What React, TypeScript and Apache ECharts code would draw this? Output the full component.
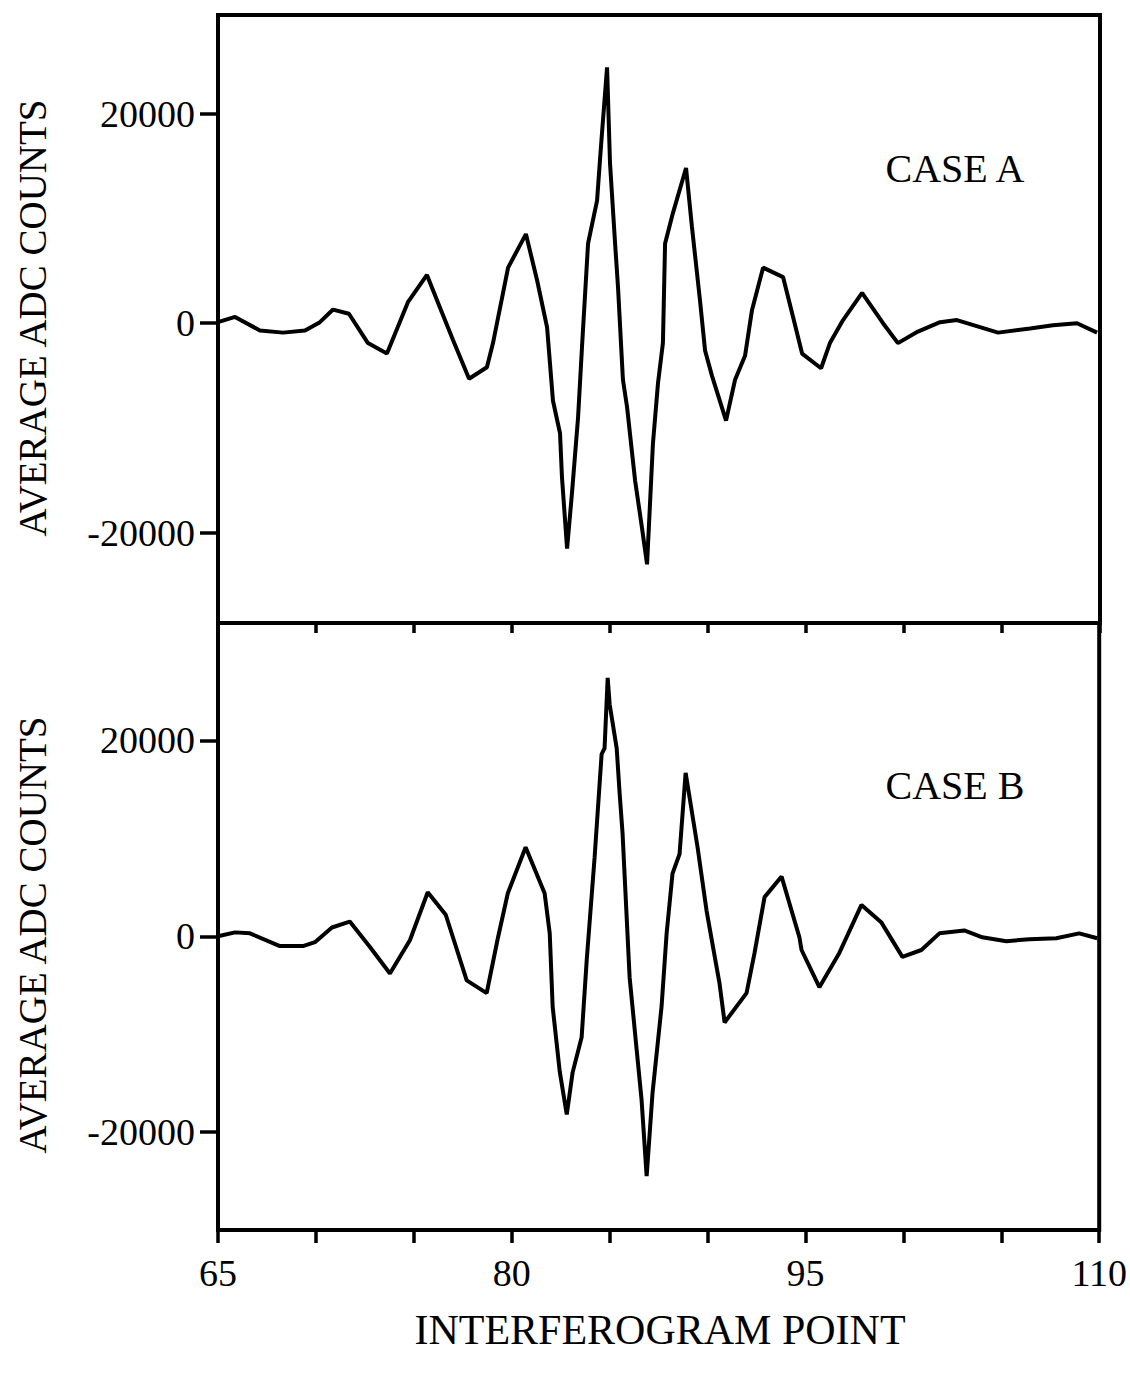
import React, { useEffect, useRef } from "react";
import * as echarts from "echarts";

// Case A interferogram (x = interferogram point, y = average ADC counts)
const caseAX = [65.0, 65.87, 67.14, 68.32, 69.44, 70.2, 70.87, 71.68, 72.65, 73.62, 74.69, 75.66, 76.43, 76.99, 77.81, 78.72, 79.03, 79.8, 80.71, 81.28, 81.79, 82.09, 82.45, 82.55, 82.81, 83.06, 83.37, 83.57, 83.88, 84.34, 84.49, 84.59, 84.85, 85.0, 85.26, 85.41, 85.66, 85.87, 86.28, 86.63, 86.89, 87.19, 87.45, 87.7, 87.81, 88.21, 88.88, 89.18, 89.59, 89.85, 90.2, 90.92, 91.38, 91.89, 92.24, 92.81, 93.83, 94.34, 94.8, 95.77, 96.22, 96.89, 97.86, 98.93, 99.69, 100.71, 101.84, 102.7, 104.8, 106.43, 107.6, 108.83, 109.85];
const caseAY = [100, 600, -700, -900, -700, 100, 1300, 900, -1900, -2900, 2000, 4600, 1000, -1600, -5300, -4200, -1900, 5300, 8500, 4100, -400, -7400, -10500, -14700, -21500, -16200, -9000, -2300, 7600, 11700, 15600, 18100, 24400, 15300, 7600, 3400, -5400, -8000, -15000, -19500, -23000, -11500, -5700, -1900, 7600, 10500, 14800, 9200, 2200, -2600, -5000, -9300, -5400, -3100, 1200, 5300, 4400, 600, -2900, -4300, -1900, 300, 2900, 0, -1900, -800, 100, 300, -900, -500, -200, 0, -900];

// Case B interferogram
const caseBX = [65.0, 65.87, 66.63, 68.16, 69.34, 69.95, 70.82, 71.73, 72.76, 73.78, 74.8, 75.71, 76.63, 77.7, 78.72, 79.29, 79.8, 80.71, 81.68, 81.94, 82.09, 82.45, 82.81, 83.11, 83.57, 83.83, 84.23, 84.59, 84.74, 84.9, 85.0, 85.36, 85.51, 85.66, 85.77, 86.02, 86.38, 86.63, 86.89, 87.19, 87.65, 87.91, 88.21, 88.57, 88.88, 89.49, 89.95, 90.61, 90.87, 91.99, 92.4, 92.91, 93.78, 94.69, 94.8, 95.71, 96.73, 97.86, 98.88, 99.95, 100.92, 101.84, 103.11, 104.03, 105.26, 106.43, 107.81, 108.98, 109.9];
const caseBY = [0, 400, 300, -1000, -1000, -600, 900, 1500, -1100, -3800, -400, 4500, 2200, -4500, -5800, -200, 4400, 9100, 4400, 300, -7200, -13800, -18200, -13900, -10300, -2400, 8000, 18600, 19200, 26400, 23700, 19200, 14600, 10500, 6000, -4200, -11600, -16700, -24500, -16000, -7200, 300, 6400, 8400, 16700, 9100, 2600, -4800, -8800, -5800, -1700, 4000, 6100, -100, -1400, -5200, -1700, 3200, 1400, -2100, -1400, 300, 600, -100, -500, -300, -200, 300, -200];

const xTickLabels = [65, 80, 95, 110];
const yTickValues = [-20000, 0, 20000];
const panelLabels = ["CASE A", "CASE B"];
const yTitle = "AVERAGE ADC COUNTS";
const xTitle = "INTERFEROGRAM POINT";

const FONT = "'Liberation Serif', 'Times New Roman', serif";

export default function App() {
  const ref = useRef<HTMLDivElement>(null);

  useEffect(() => {
    if (!ref.current) return;
    const chart = echarts.init(ref.current, null, { renderer: "svg" });
    const zip = (xs: number[], ys: number[]) => xs.map((x, i) => [x, ys[i]]);

    const gridBase = {
      left: 218,
      width: 882,
      show: true,
      borderColor: "#000",
      borderWidth: 4,
      backgroundColor: "transparent",
    };

    const xAxisBase = (gridIndex: number, showLabels: boolean, tickLen: number) => ({
      type: "value",
      gridIndex,
      position: "bottom",
      min: 65,
      max: 110,
      interval: 5,
      axisLine: { show: false, onZero: false },
      axisTick: { show: true, inside: false, length: tickLen, lineStyle: { color: "#000", width: 3.5 } },
      splitLine: { show: false },
      axisLabel: {
        show: showLabels,
        fontSize: 38,
        fontFamily: FONT,
        color: "#000",
        margin: 24,
        formatter: (v: number) => (xTickLabels.includes(v) ? String(v) : ""),
      },
    });

    const yAxisBase = (gridIndex: number, min: number, max: number) => ({
      type: "value",
      gridIndex,
      position: "left",
      min,
      max,
      axisLine: { show: false, onZero: false },
      axisTick: {
        show: true,
        length: 18,
        customValues: yTickValues,
        lineStyle: { color: "#000", width: 3.5 },
      },
      splitLine: { show: false },
      axisLabel: {
        show: true,
        customValues: yTickValues,
        fontSize: 38,
        fontFamily: FONT,
        color: "#000",
        margin: 23,
        formatter: (v: number) => String(v),
      },
    });

    chart.setOption({
      animation: false,
      backgroundColor: "#fff",
      grid: [
        { ...gridBase, top: 15, height: 608 },
        { ...gridBase, top: 623, height: 607 },
      ],
      xAxis: [xAxisBase(0, false, 10), xAxisBase(1, true, 13)],
      yAxis: [yAxisBase(0, -28600, 29400), yAxisBase(1, -30000, 32000)],
      series: [
        {
          type: "line",
          xAxisIndex: 0,
          yAxisIndex: 0,
          data: zip(caseAX, caseAY),
          showSymbol: false,
          lineStyle: { color: "#000", width: 4 },
        },
        {
          type: "line",
          xAxisIndex: 1,
          yAxisIndex: 1,
          data: zip(caseBX, caseBY),
          showSymbol: false,
          lineStyle: { color: "#000", width: 4 },
        },
      ],
      graphic: [
        {
          type: "text",
          x: 955,
          y: 168,
          style: { text: panelLabels[0], font: `40px ${FONT}`, fill: "#000", align: "center", verticalAlign: "middle" },
        },
        {
          type: "text",
          x: 955,
          y: 785,
          style: { text: panelLabels[1], font: `40px ${FONT}`, fill: "#000", align: "center", verticalAlign: "middle" },
        },
        {
          type: "text",
          x: 32,
          y: 318,
          rotation: Math.PI / 2,
          style: { text: yTitle, font: `39px ${FONT}`, fill: "#000", align: "center", verticalAlign: "middle" },
        },
        {
          type: "text",
          x: 32,
          y: 935,
          rotation: Math.PI / 2,
          style: { text: yTitle, font: `39px ${FONT}`, fill: "#000", align: "center", verticalAlign: "middle" },
        },
        {
          type: "text",
          x: 660,
          y: 1330,
          style: { text: xTitle, font: `42px ${FONT}`, fill: "#000", align: "center", verticalAlign: "middle" },
        },
      ],
    });

    return () => chart.dispose();
  }, []);

  return (
    <div
      ref={ref}
      style={{ position: "absolute", left: 0, top: 0, width: 1130, height: 1376, background: "#fff" }}
    />
  );
}
